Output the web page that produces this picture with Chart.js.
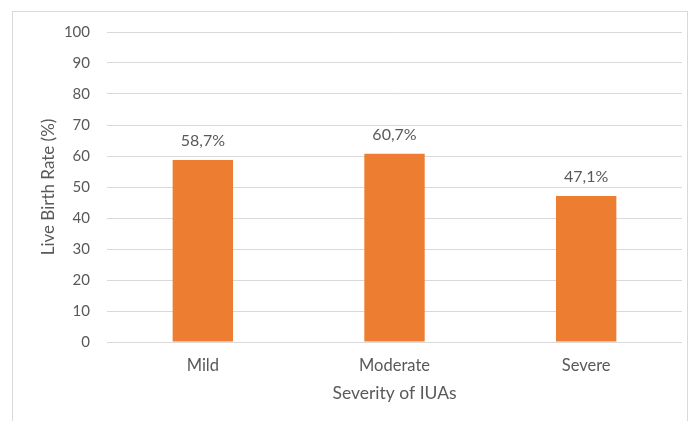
<!DOCTYPE html>
<html lang="en">
<head>
    <meta charset="UTF-8">
    <title>Live Birth Rate by Severity of IUAs</title>
    <script src="https://cdn.jsdelivr.net/npm/chart.js"></script>
    <style>
        html, body { margin: 0; padding: 0; background: #fff; }
        #frame {
            position: absolute; left: 12px; top: 11px;
            width: 676px; height: 420px;
            border: 1px solid #d9d9d9; box-sizing: border-box;
        }
        #wrap { position: absolute; left: 0; top: 0; width: 690px; height: 421px; }
    </style>
</head>
<body>
    <div id="frame"></div>
    <div id="wrap"><canvas id="chart" width="690" height="421"></canvas></div>

    <script>
        const categories = ['Mild', 'Moderate', 'Severe'];
        const liveBirthRate = [58.7, 60.7, 47.1];
        const valueLabels = ['58,7%', '60,7%', '47,1%'];

        const textColor = '#595959';
        const fontFamily = 'Lato, "Open Sans", sans-serif';

        // labels above each bar
        const barLabels = {
            id: 'barLabels',
            afterDatasetsDraw(chart) {
                const ctx = chart.ctx;
                const meta = chart.getDatasetMeta(0);
                ctx.save();
                ctx.font = '16px ' + fontFamily;
                ctx.fillStyle = textColor;
                ctx.textAlign = 'center';
                ctx.textBaseline = 'middle';
                meta.data.forEach((bar, i) => {
                    ctx.fillText(valueLabels[i], bar.x, bar.y - 19);
                });
                ctx.restore();
            }
        };

        new Chart(document.getElementById('chart'), {
            type: 'bar',
            data: {
                labels: categories,
                datasets: [{
                    data: liveBirthRate,
                    backgroundColor: '#ed7d31',
                    borderWidth: 0,
                    barPercentage: 0.63,
                    categoryPercentage: 0.5
                }]
            },
            options: {
                responsive: false,
                animation: false,
                layout: { padding: { top: 32, right: 8, left: 0, bottom: 0 } },
                plugins: { legend: { display: false }, tooltip: { enabled: false } },
                scales: {
                    x: {
                        grid: { display: false, drawTicks: false },
                        border: { display: false },
                        ticks: { color: textColor, font: { family: fontFamily, size: 16.5 }, padding: 14 },
                        title: {
                            display: true, text: 'Severity of IUAs', color: textColor,
                            font: { family: fontFamily, size: 17.5 }, padding: { top: 0, bottom: 17 }
                        },
                        afterFit(scale) { scale.height = 79; }
                    },
                    y: {
                        min: 0, max: 100,
                        ticks: { stepSize: 10, color: textColor, font: { family: fontFamily, size: 15 }, padding: 17 },
                        grid: { color: '#d9d9d9', lineWidth: 1, drawTicks: false },
                        border: { display: false },
                        title: {
                            display: true, text: 'Live Birth Rate (%)', color: textColor,
                            font: { family: fontFamily, size: 17 }, padding: { top: 38, bottom: 0 }
                        },
                        afterFit(scale) { scale.width = 107; }
                    }
                }
            },
            plugins: [barLabels]
        });
    </script>
</body>
</html>
